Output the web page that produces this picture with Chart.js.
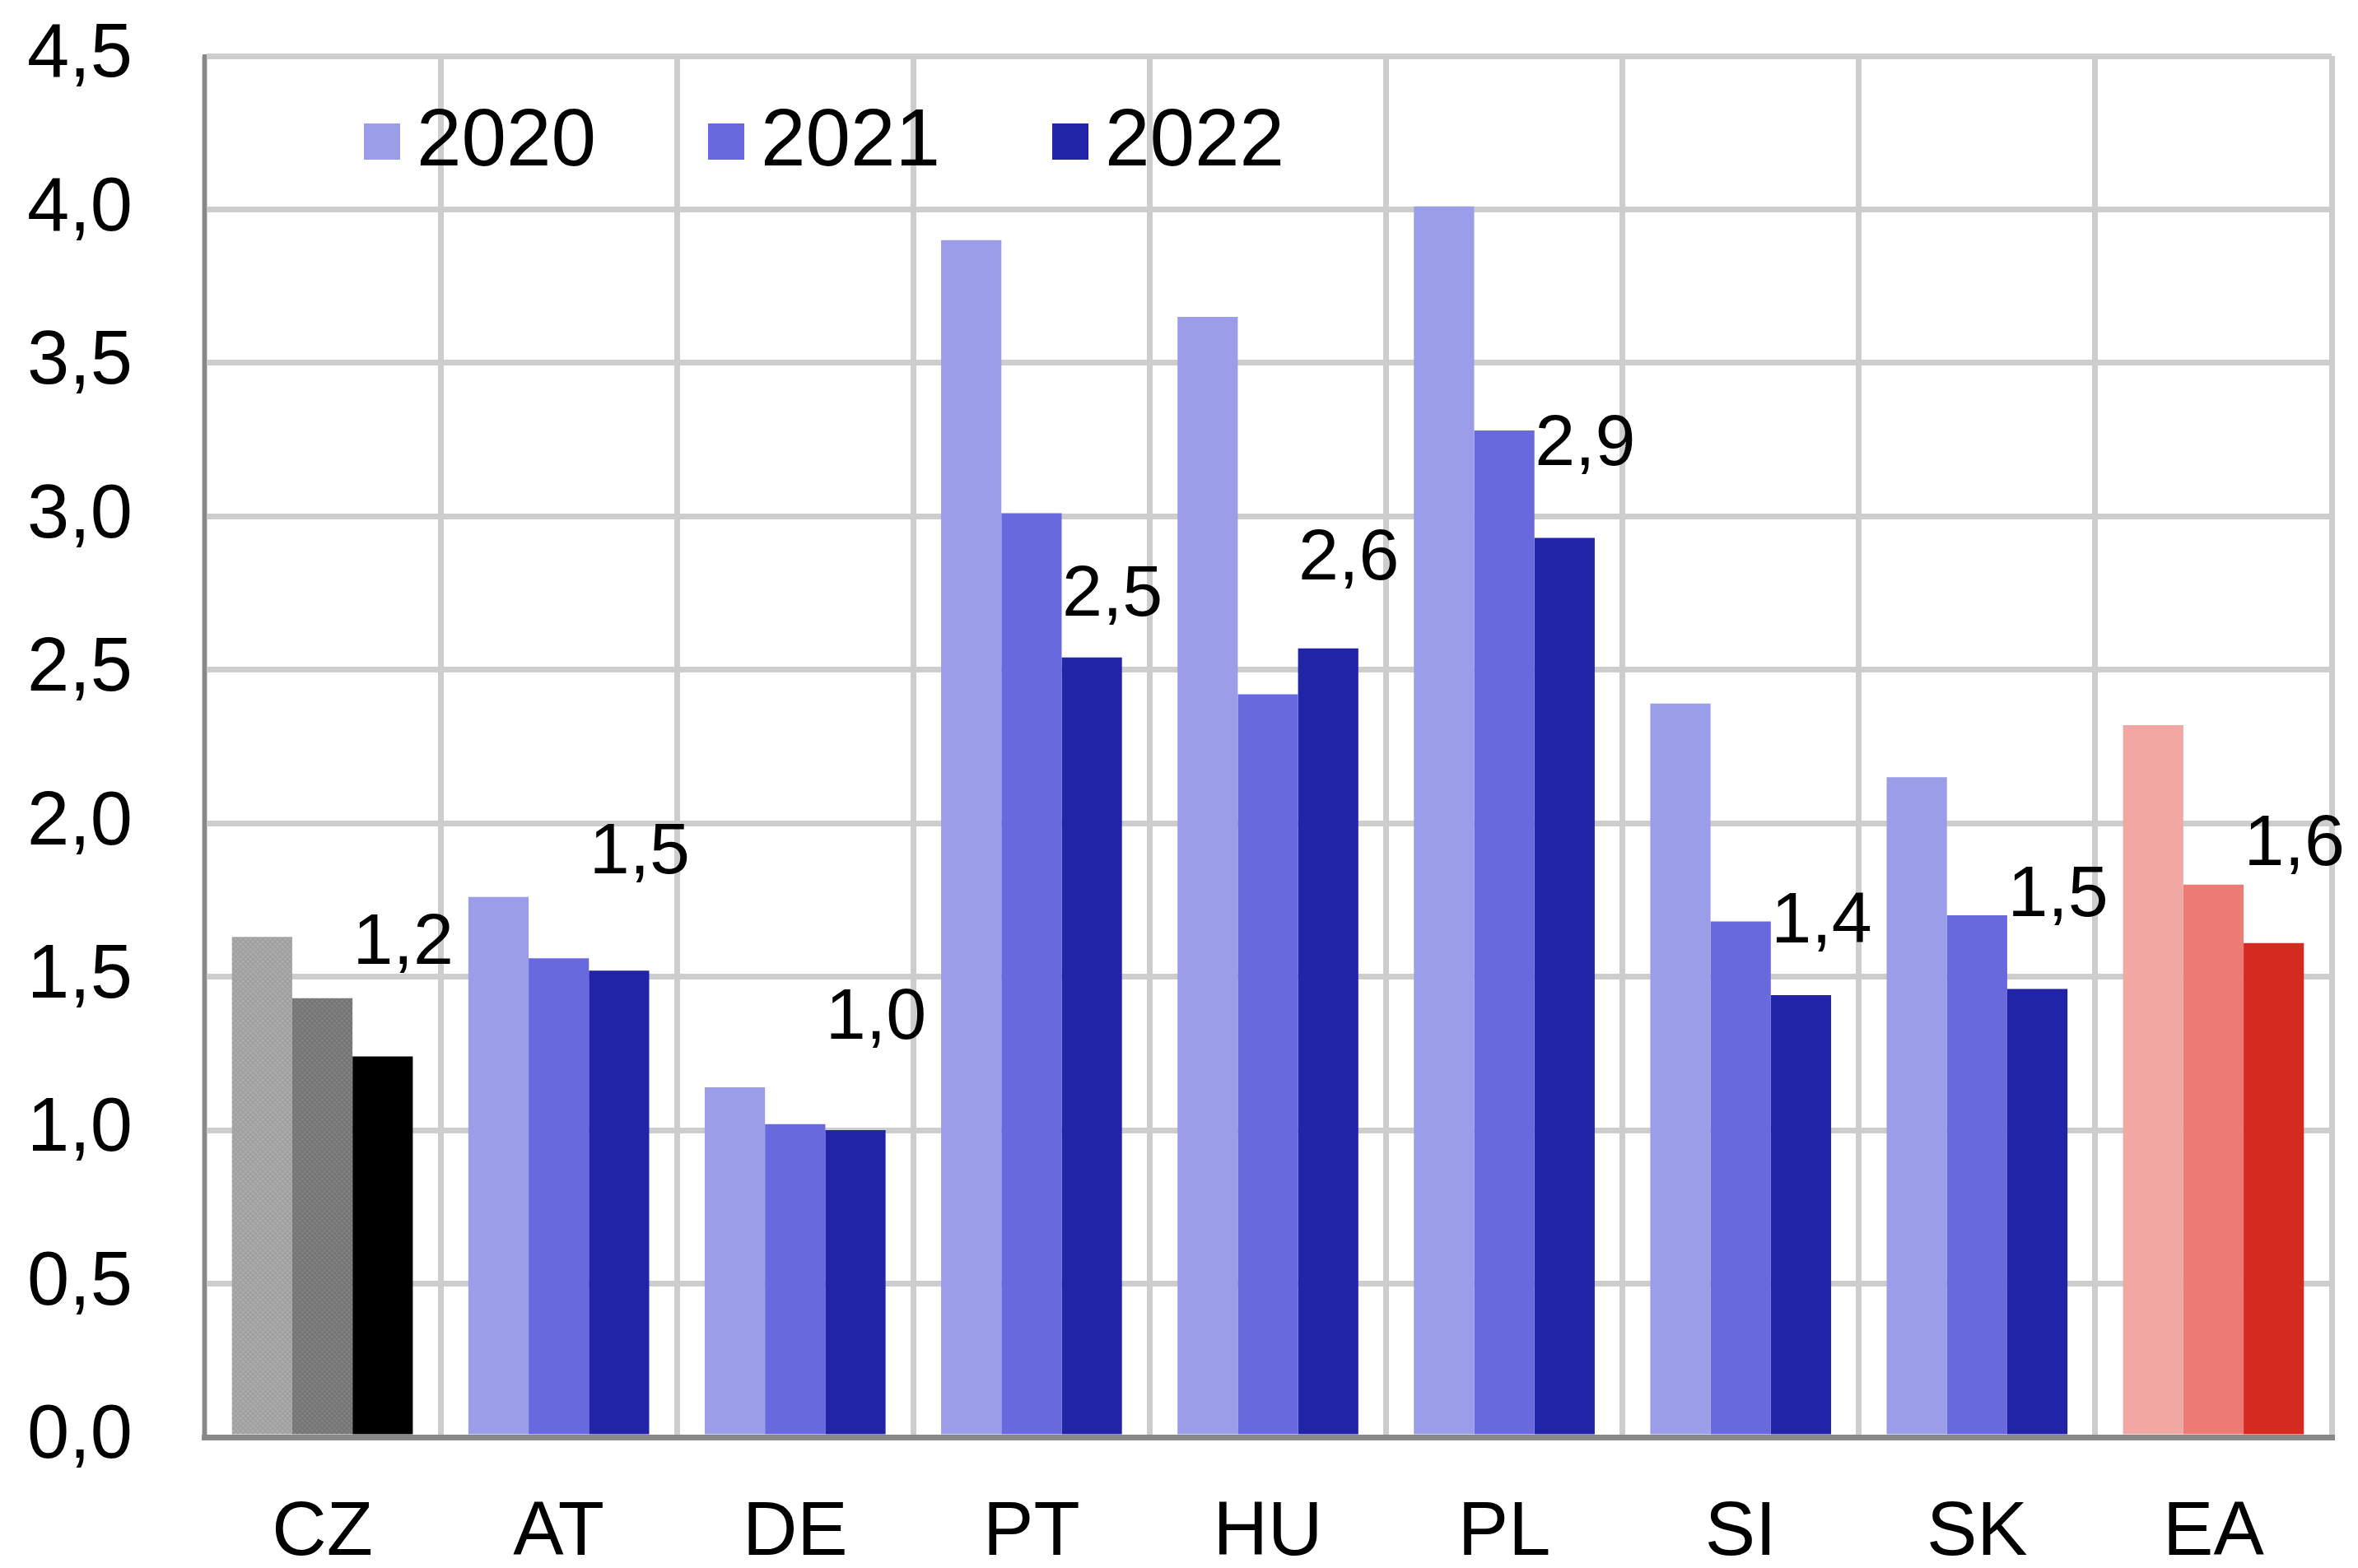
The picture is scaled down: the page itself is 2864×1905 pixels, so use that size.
<!DOCTYPE html>
<html>
<head>
<meta charset="utf-8">
<script src="https://cdn.jsdelivr.net/npm/chart.js@4.4.1/dist/chart.umd.min.js"></script>
<style>
  html, body { margin: 0; padding: 0; background: #fff; }
  #wrap { width: 2864px; height: 1905px; }
</style>
</head>
<body>
<div id="wrap"><canvas id="barC" width="2864" height="1905"></canvas></div>
<script>
// data
const countries = ['CZ', 'AT', 'DE', 'PT', 'HU', 'PL', 'SI', 'SK', 'EA'];
const years = ['2020', '2021', '2022'];
const v2020 = [1.63, 1.76, 1.14, 3.90, 3.65, 4.01, 2.39, 2.15, 2.32];
const v2021 = [1.43, 1.56, 1.02, 3.01, 2.42, 3.28, 1.68, 1.70, 1.80];
const v2022 = [1.24, 1.52, 1.00, 2.54, 2.57, 2.93, 1.44, 1.46, 1.61];
const yTicks = [0, 0.5, 1, 1.5, 2, 2.5, 3, 3.5, 4, 4.5];

// styling
const blues = ['#9b9de8', '#6869dd', '#2224a8'];
const reds  = ['#f2a8a2', '#ec7b76', '#d42a20'];
const FONT = '"Liberation Sans", Arial, sans-serif';
const labelLift = [137, 142, 135, 75, 108, 113, 88, 113, 119]; // px above the 2022 bar

// dithered grey like the original's CZ bars
function dither(base, a, b) {
  const c = document.createElement('canvas');
  c.width = 6; c.height = 6;
  const g = c.getContext('2d');
  g.fillStyle = base; g.fillRect(0, 0, 6, 6);
  g.fillStyle = a;
  g.fillRect(0, 0, 3, 3); g.fillRect(3, 3, 3, 3);
  g.fillStyle = b;
  g.fillRect(3, 0, 2, 2); g.fillRect(0, 3, 2, 2);
  return g.createPattern(c, 'repeat');
}
const ctx = document.getElementById('barC');
const cz = [dither('#a6a6a6', '#a0a0a0', '#adadad'), dither('#7b7b7b', '#767676', '#828282'), '#000000'];

function colours(i) {
  return countries.map(c => c === 'CZ' ? cz[i] : c === 'EA' ? reds[i] : blues[i]);
}

const valueLabels = {
  id: 'valueLabels',
  afterDatasetsDraw(chart) {
    const g = chart.ctx;
    const meta = chart.getDatasetMeta(2);
    g.save();
    g.font = '88px ' + FONT;
    g.fillStyle = '#000';
    g.textAlign = 'center';
    g.textBaseline = 'middle';
    meta.data.forEach((bar, i) => {
      const txt = v2022[i].toFixed(1).replace('.', ',');
      g.fillText(txt, bar.x + 25, bar.y - labelLift[i]);
    });
    g.restore();
  }
};

const boxLegend = {
  id: 'boxLegend',
  afterDraw(chart) {
    const g = chart.ctx;
    const a = chart.chartArea;
    g.save();
    g.font = '98px ' + FONT;
    g.textBaseline = 'middle';
    let x = a.left + 194;
    const y = a.top + 104;
    years.forEach((yr, i) => {
      g.fillStyle = blues[i];
      g.fillRect(x, y - 22, 44, 44);
      g.fillStyle = '#000';
      g.fillText(yr, x + 64, y + 2);
      x += 64 + g.measureText(yr).width + 136;
    });
    g.restore();
  }
};

new Chart(ctx, {
  type: 'bar',
  data: {
    labels: countries,
    datasets: [
      { label: years[0], data: v2020, backgroundColor: colours(0) },
      { label: years[1], data: v2021, backgroundColor: colours(1) },
      { label: years[2], data: v2022, backgroundColor: colours(2) }
    ]
  },
  options: {
    responsive: false, animation: false, devicePixelRatio: 1,
    layout: { padding: { top: 68, right: 32, left: 0, bottom: 0 } },
    datasets: { bar: { categoryPercentage: 0.765, barPercentage: 1.0, borderWidth: 0 } },
    plugins: { legend: { display: false }, tooltip: { enabled: false } },
    scales: {
      x: {
        grid: { color: '#cdcdcd', lineWidth: 7, drawTicks: false, offset: true },
        border: { color: '#888', width: 7 },
        ticks: { color: '#000', font: { family: FONT, size: 92 }, padding: 62 },
        afterFit: s => { s.height = 159; s.paddingLeft = 0; s.paddingRight = 0; }
      },
      y: {
        min: 0, max: 4.5,
        afterBuildTicks: s => { s.ticks = yTicks.map(v => ({ value: v })); },
        grid: { color: '#cdcdcd', lineWidth: 7, drawTicks: false },
        border: { color: '#888', width: 5 },
        ticks: { color: '#000', font: { family: FONT, size: 92 }, padding: 87,
          callback: v => v.toFixed(1).replace('.', ',') },
        afterFit: s => { s.width = 248; s.paddingTop = 0; s.paddingBottom = 0; }
      }
    }
  },
  plugins: [valueLabels, boxLegend]
});
</script>
</body>
</html>
